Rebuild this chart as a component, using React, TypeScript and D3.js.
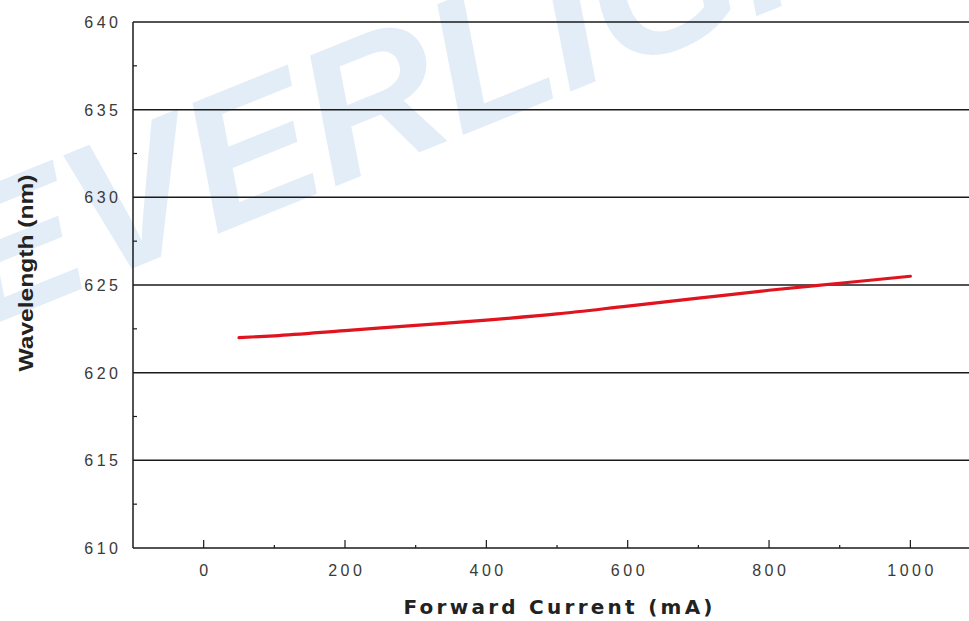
import React from "react";
import * as d3 from "d3";

const currents = [50, 100, 200, 300, 400, 500, 600, 700, 800, 900, 1000];
const wavelengths = [622.0, 622.1, 622.4, 622.7, 623.0, 623.35, 623.8, 624.25, 624.7, 625.1, 625.5];
const xTicks = [0, 200, 400, 600, 800, 1000];
const xMinorTicks = [100, 300, 500, 700, 900];
const yTicks = [610, 615, 620, 625, 630, 635, 640];
const yMinorTicks = [612.5, 617.5, 622.5, 627.5, 632.5, 637.5];

const W = 969;
const H = 621;
const left = 133;
const top = 22;
const bottom = 548;
const LS = 3.5;

export default function App() {
  const x = d3.scaleLinear().domain([-100, 1100]).range([left, left + 1200 * 0.7067]);
  const y = d3.scaleLinear().domain([610, 640]).range([bottom, top]);
  const line = d3
    .line<number>()
    .x((_, i) => x(currents[i]))
    .y((d) => y(d))
    .curve(d3.curveMonotoneX);

  return (
    <svg
      width={W}
      height={H}
      style={{ position: "absolute", left: 0, top: 0, background: "#fff" }}
    >
      <text
        x={-20}
        y={330}
        transform="rotate(-22 -20 330)"
        fontFamily="Arial, 'Liberation Sans', sans-serif"
        fontWeight="bold"
        fontStyle="italic"
        fontSize={190}
        fill="#e3edf7"
      >
        EVERLIGHT
      </text>
      {yTicks.map((t) => (
        <line key={"g" + t} x1={left} x2={W} y1={y(t)} y2={y(t)} stroke="#1a1a1a" strokeWidth={1.5} />
      ))}
      <line x1={left} x2={left} y1={top} y2={bottom} stroke="#1a1a1a" strokeWidth={1.5} />
      {yMinorTicks.map((t) => (
        <line key={"ym" + t} x1={left} x2={left + 4} y1={y(t)} y2={y(t)} stroke="#1a1a1a" strokeWidth={1.2} />
      ))}
      {xTicks.map((t) => (
        <line key={"xt" + t} x1={x(t)} x2={x(t)} y1={bottom} y2={bottom - 8} stroke="#1a1a1a" strokeWidth={1.2} />
      ))}
      {xMinorTicks.map((t) => (
        <line key={"xm" + t} x1={x(t)} x2={x(t)} y1={bottom} y2={bottom - 3} stroke="#1a1a1a" strokeWidth={1.2} />
      ))}
      {yTicks.map((t) => (
        <text
          key={"yl" + t}
          x={118 + LS}
          y={y(t) + 6}
          textAnchor="end"
          fontFamily="Arial, 'Liberation Sans', sans-serif"
          fontSize={16}
          letterSpacing={LS}
          fill="#3a3a3a"
        >
          {t}
        </text>
      ))}
      {xTicks.map((t) => (
        <text
          key={"xl" + t}
          x={x(t) + LS / 2}
          y={576}
          textAnchor="middle"
          fontFamily="Arial, 'Liberation Sans', sans-serif"
          fontSize={16}
          letterSpacing={LS}
          fill="#3a3a3a"
        >
          {t}
        </text>
      ))}
      <path d={line(wavelengths) || ""} fill="none" stroke="#e0141e" strokeWidth={3.2} strokeLinecap="round" />
      <text
        x={558}
        y={614}
        textAnchor="middle"
        fontFamily="'DejaVu Sans', Verdana, sans-serif"
        fontWeight="bold"
        fontSize={20}
        textLength={309}
        lengthAdjust="spacing"
        fill="#222"
      >
        Forward Current (mA)
      </text>
      <text
        x={0}
        y={0}
        transform="translate(33,273) rotate(-90)"
        textAnchor="middle"
        fontFamily="Arial, 'Liberation Sans', sans-serif"
        fontWeight="bold"
        fontSize={21}
        textLength={197}
        lengthAdjust="spacingAndGlyphs"
        fill="#222"
      >
        Wavelength (nm)
      </text>
    </svg>
  );
}
